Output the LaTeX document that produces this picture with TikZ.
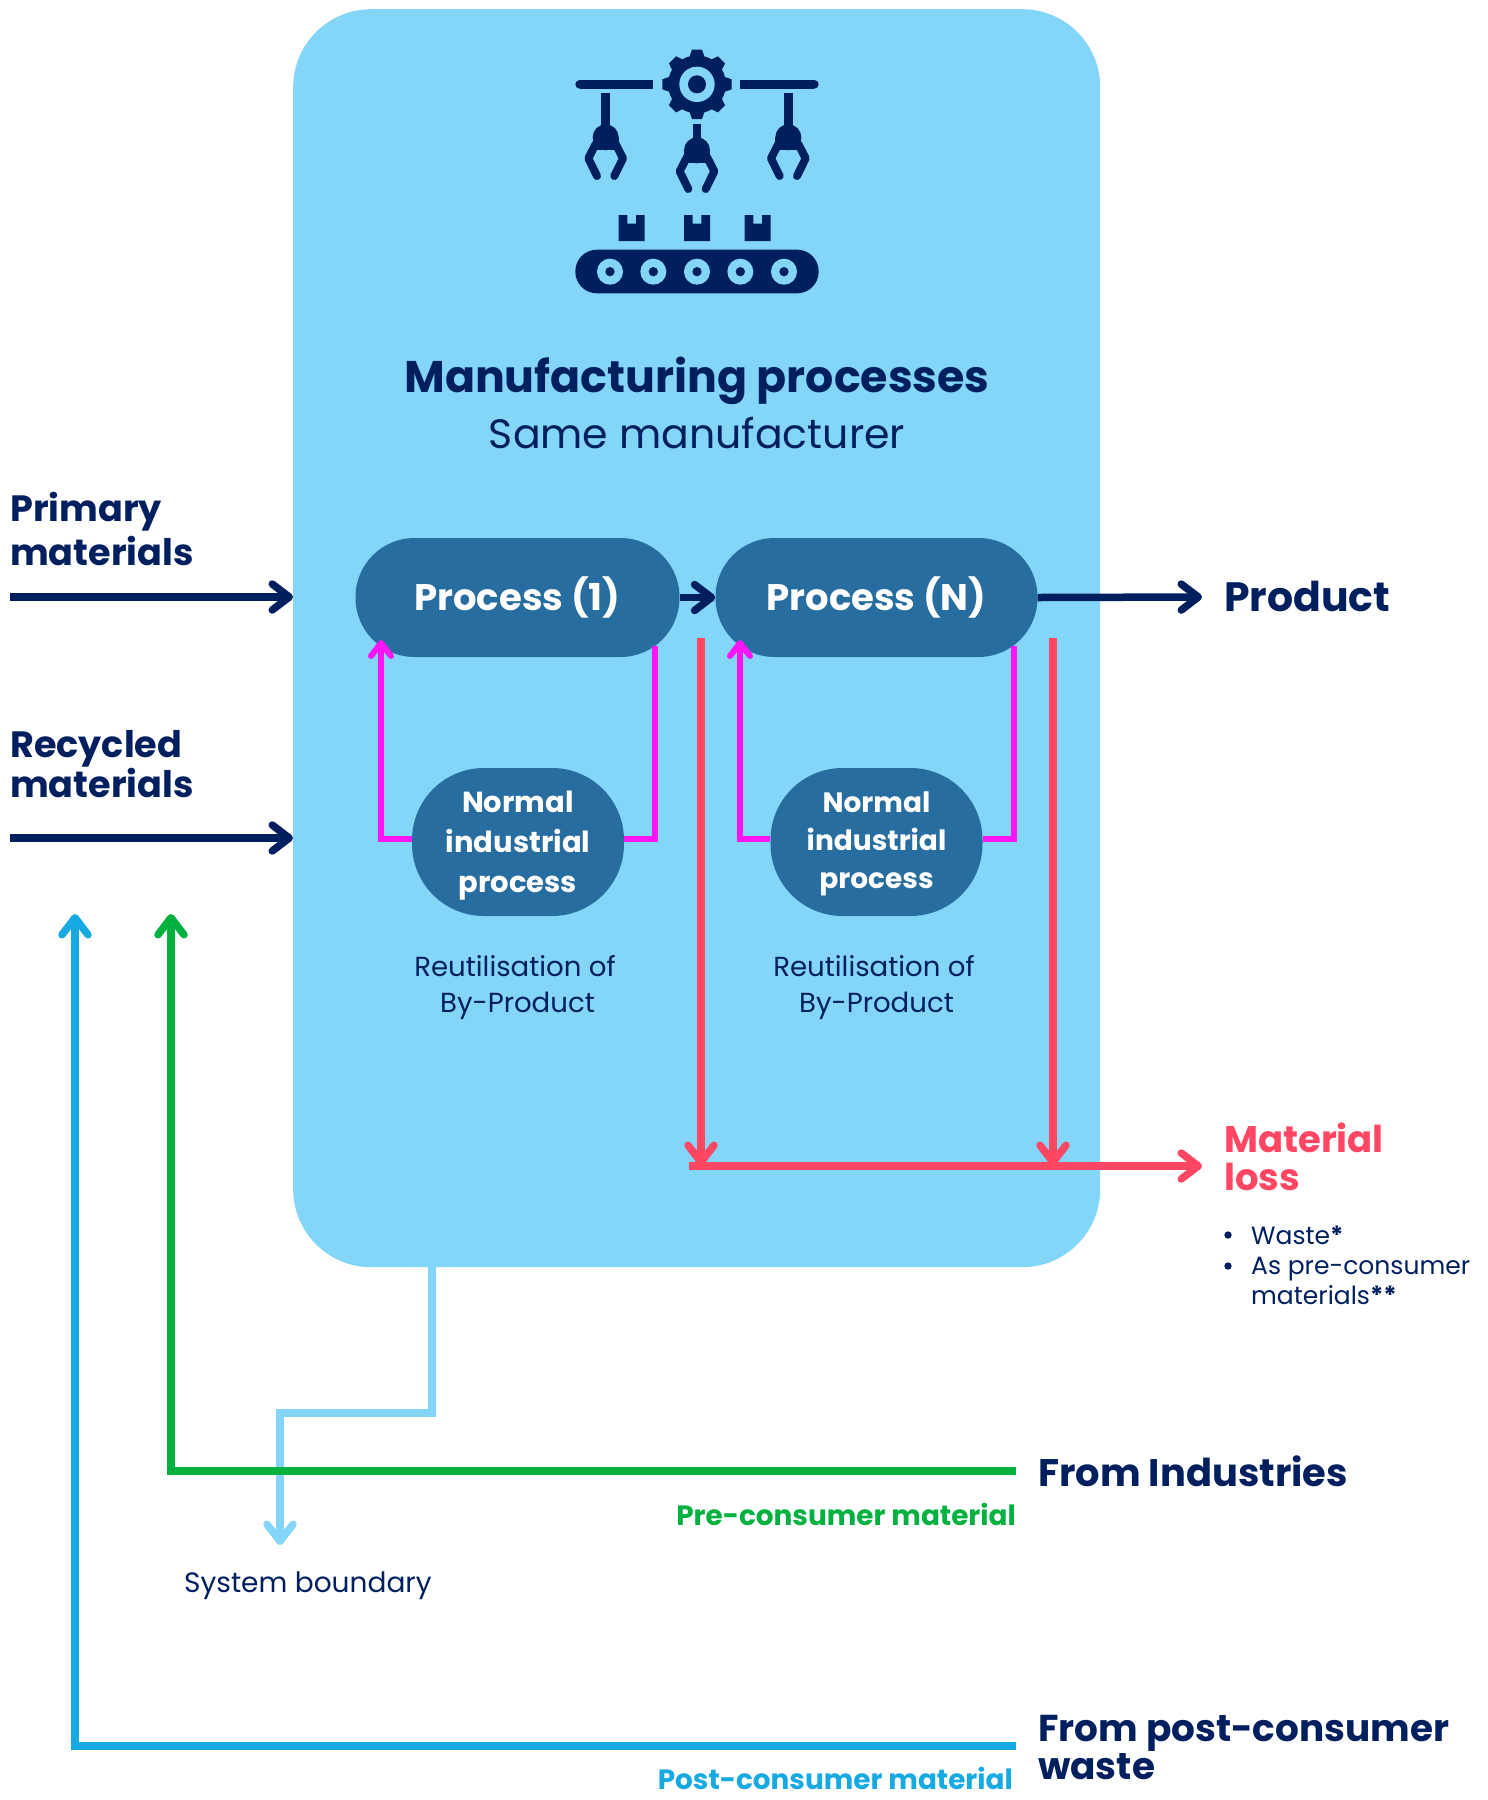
\documentclass[tikz,border=0pt]{standalone}
\usepackage{fontspec}
\setmainfont{Poppins}
\usetikzlibrary{arrows.meta}
\definecolor{sky}{HTML}{83D6F7}
\definecolor{navy}{HTML}{001F5F}
\definecolor{steel}{HTML}{276D9F}
\definecolor{magent}{HTML}{FF14F5}
\definecolor{lossred}{HTML}{FF4763}
\definecolor{indgreen}{HTML}{00B140}
\definecolor{postblue}{HTML}{17A9E1}
\newcommand{\fsz}[2]{\fontsize{#1}{#2}\selectfont}
\tikzset{
  conn/.style={line width=#1,-{Straight Barb[length=17pt,width=26pt,round]}},
  conn/.default=7.5pt,
  plainline/.style={line width=#1},
  plainline/.default=6pt,
  procbox/.style={fill=steel,rounded corners=59pt,minimum width=324pt,minimum height=119pt,inner sep=0pt,text=white,font=\bfseries\fsz{37}{44}},
  normbox/.style={fill=steel,rounded corners=72pt,minimum width=212pt,minimum height=148pt,inner sep=0pt},
  normtext/.style={text=white,inner sep=0pt,align=center,font=\bfseries\fsz{29}{40}},
  headlabel/.style={text=navy,anchor=west,inner sep=0pt,align=left,font=\bfseries\fsz{37}{43}},
  sublabel/.style={text=navy,inner sep=0pt,align=center,font=\fsz{27.6}{36}},
  stream/.style={anchor=base east,inner sep=0pt,font=\bfseries\fsz{27.9}{32}},
  iconpart/.style={fill=navy,draw=none},
}
\begin{document}
\begin{tikzpicture}[x=1pt,y=-1pt]
\useasboundingbox (0,0) rectangle (1488,1800);
\node[fill=sky,rounded corners=78pt,minimum width=807pt,minimum height=1258pt,inner sep=0pt,anchor=north west] (main) at (293,9) {};
% icon
\begin{scope}[shift={(540,20)},x=0.33333pt,y=-0.33333pt]
  % rails
  \fill[iconpart] (119,180) rectangle (340,206);
  \fill[navy] (119,193) circle[radius=13];
  \fill[iconpart] (601,180) rectangle (823,206);
  \fill[navy] (823,193) circle[radius=13];
  % gear
  \foreach \a in {0,45,...,315}{
    \fill[iconpart,rotate around={\a:(471,193)}] (448,112) -- (456,89) -- (486,89) -- (494,112) -- cycle;
  }
  \fill[navy] (471,193) circle[radius=87];
  \fill[sky] (471,193) circle[radius=53];
  \fill[navy] (471,193) circle[radius=27];
  % claws
  \foreach \cx/\sy/\st in {197/0/220,471/39/273,745/0/220}{
    \begin{scope}[shift={(\cx,\sy)}]
      \fill[iconpart] (-13,\st) rectangle (13,330);
      \fill[navy] (0,352) circle[radius=39];
      \fill[iconpart] (-39,352) rectangle (39,390);
      \draw[navy,line width=8pt,line cap=round,line join=round] (-30,372) -- (-52,415) -- (-26,468);
      \draw[navy,line width=8pt,line cap=round,line join=round] (30,372) -- (52,415) -- (26,468);
    \end{scope}
  }
  % parcels
  \foreach \bx in {236,432,614}{
    \fill[iconpart] (\bx,585) -- (\bx+26,585) -- (\bx+26,611) -- (\bx+52,611) -- (\bx+52,585) -- (\bx+78,585) -- (\bx+78,663) -- (\bx,663) -- cycle;
  }
  % conveyor
  \fill[navy,rounded corners=21.6pt] (106,689) rectangle (836,820);
  \foreach \wx in {210,340,471,601,732}{
    \fill[sky] (\wx,755) circle[radius=39];
    \fill[navy] (\wx,755) circle[radius=14];
  }
\end{scope}
% titles
\node[text=navy,inner sep=0pt,font=\bfseries\fsz{44.3}{50}] (title) at (697,381) {Manufacturing processes};
\node[text=navy,inner sep=0pt,font=\fsz{41}{50}] (subtitle) at (697,433) {Same manufacturer};
% process nodes
\node[procbox] (p1) at (517.5,597.5) {Process (1)};
\node[procbox,minimum width=322pt] (pn) at (876.5,597.5) {Process (N)};
\node[normbox] (n1) at (518,842) {};
\node[normbox] (nn) at (876.5,842) {};
\node[normtext] (n1t) at (518,845.5) {Normal\\industrial\\process};
\node[normtext,font=\bfseries\fsz{28}{38}] (nnt) at (876.5,844) {Normal\\industrial\\process};
\node[sublabel] (r1) at (515,988) {Reutilisation of\\\hspace*{5pt}By-Product};
\node[sublabel] (rn) at (874,988) {Reutilisation of\\\hspace*{5pt}By-Product};
% labels
\node[headlabel,font=\bfseries\fsz{36.6}{44}] (prim) at (10,529) {Primary\\materials};
\node[headlabel,font=\bfseries\fsz{36.6}{38}] (rec) at (10,764) {Recycled\\materials};
\node[headlabel,font=\bfseries\fsz{41}{43}] (prod) at (1224,596) {Product};
\node[headlabel,text=lossred,font=\bfseries\fsz{37}{38}] (loss) at (1224,1157) {Material\\loss};
\node[headlabel,font=\fsz{25}{30}] (w1) at (1251,1235) {Waste\textbf{*}};
\node[headlabel,font=\fsz{25}{30}] (w2) at (1251,1281) {As pre-consumer\\materials\textbf{**}};
\fill[navy] (1228,1235) circle[radius=3.7];
\fill[navy] (1228,1266) circle[radius=3.7];
\node[headlabel,font=\bfseries\fsz{38.4}{43}] (ind) at (1038,1471) {From Industries};
\node[stream,text=indgreen] (pre) at (1016,1525) {Pre-consumer material};
\node[sublabel,anchor=west,font=\fsz{28}{36}] (sys) at (184,1586) {System boundary};
\node[headlabel,font=\bfseries\fsz{37.4}{38}] (post) at (1038,1747) {From post-consumer\\waste};
\node[stream,text=postblue] (postm) at (1013,1789) {Post-consumer material};
% coordinates for free ends
\coordinate (a1) at (10,597);
\coordinate (a2) at (10,838);
\coordinate (mainl1) at (293,597);
\coordinate (mainl2) at (293,838);
\coordinate (prodtip) at (1202,597);
\coordinate (m1a) at (412,839);
\coordinate (m1b) at (381,839);
\coordinate (m1c) at (381,640);
\coordinate (m2a) at (624,839);
\coordinate (m2b) at (655,839);
\coordinate (m2c) at (655,646);
\coordinate (m3a) at (770,839);
\coordinate (m3b) at (740,839);
\coordinate (m3c) at (740,640);
\coordinate (m4a) at (983,839);
\coordinate (m4b) at (1014,839);
\coordinate (m4c) at (1014,646);
\coordinate (l1s) at (701,638);
\coordinate (l1e) at (701,1166);
\coordinate (l2s) at (1053,638);
\coordinate (l2e) at (1053,1166);
\coordinate (lh) at (689,1166);
\coordinate (lt) at (1202,1166);
\coordinate (s0) at (432,1267);
\coordinate (s1) at (432,1413);
\coordinate (s2) at (280,1413);
\coordinate (s3) at (280,1545);
\coordinate (g0) at (1016,1471);
\coordinate (g1) at (171,1471);
\coordinate (g2) at (171,914);
\coordinate (c0) at (1016,1746);
\coordinate (c1) at (75,1746);
\coordinate (c2) at (75,914);
% connectors
\draw[conn,draw=navy] (a1) -- (mainl1);
\draw[conn,draw=navy] (a2) -- (mainl2);
\draw[conn,draw=navy] (p1.east) -- (pn.west);
\draw[conn,draw=navy] (pn.east) -- (prodtip);
\draw[conn=6pt,draw=magent,-{Straight Barb[length=13pt,width=20pt,round]},line join=miter] (m1a) -- (m1b) -- (m1c);
\draw[plainline=6pt,draw=magent] (m2a) -- (m2b) -- (m2c);
\draw[conn=6pt,draw=magent,-{Straight Barb[length=13pt,width=20pt,round]},line join=miter] (m3a) -- (m3b) -- (m3c);
\draw[plainline=6pt,draw=magent] (m4a) -- (m4b) -- (m4c);
\draw[conn,draw=lossred] (l1s) -- (l1e);
\draw[conn,draw=lossred] (l2s) -- (l2e);
\draw[conn,draw=lossred] (lh) -- (lt);
\draw[conn,draw=sky] (s0) -- (s1) -- (s2) -- (s3);
\draw[conn,draw=indgreen] (g0) -- (g1) -- (g2);
\draw[conn,draw=postblue] (c0) -- (c1) -- (c2);
\end{tikzpicture}
\end{document}
